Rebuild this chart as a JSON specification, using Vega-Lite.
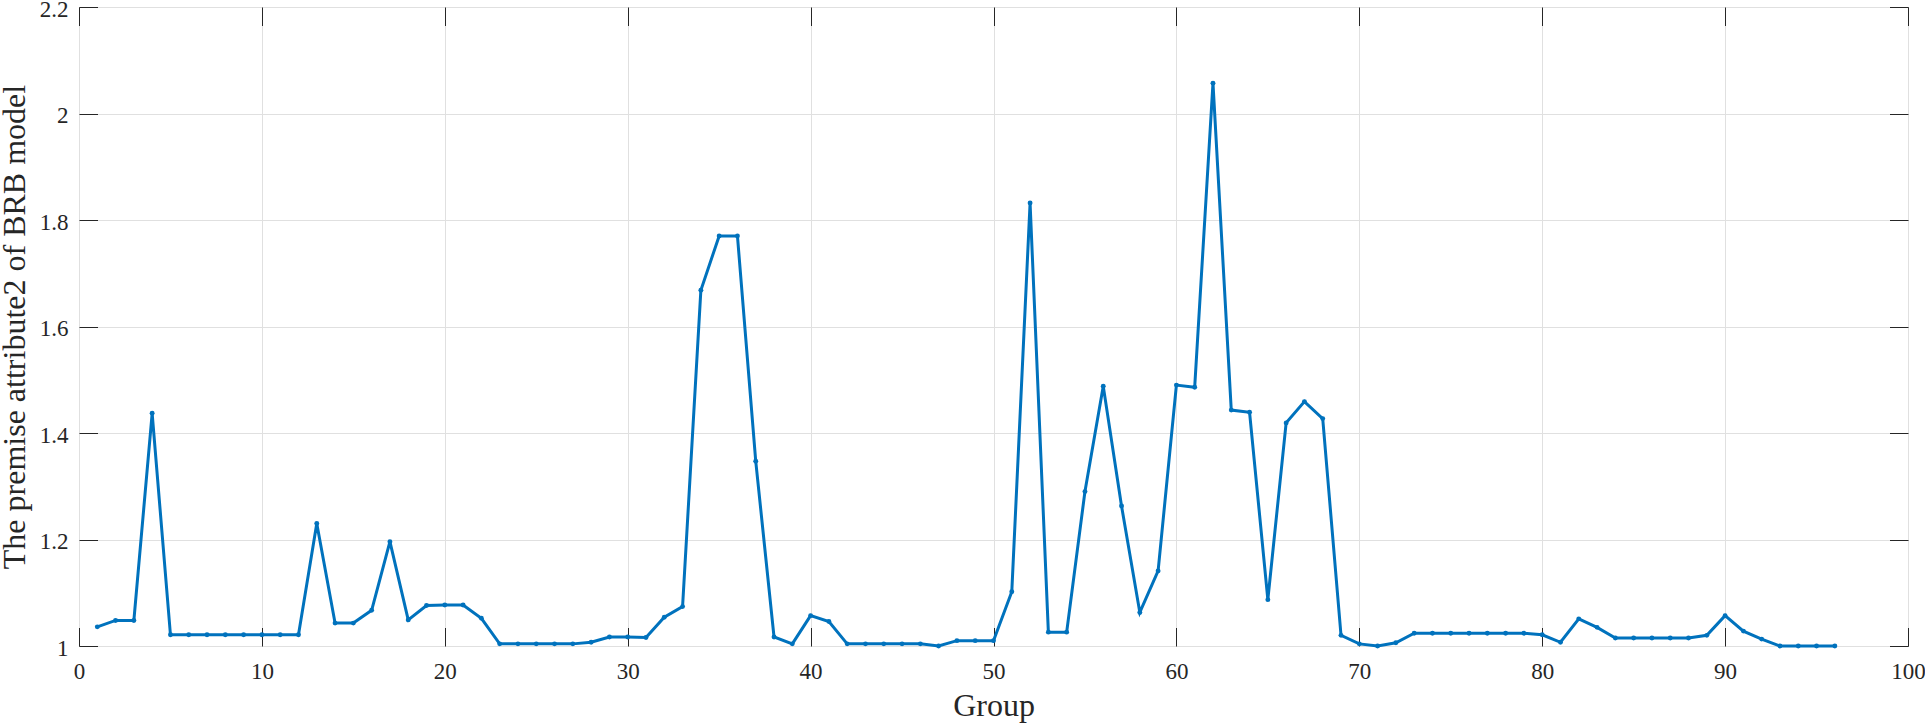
{
  "$schema": "https://vega.github.io/schema/vega-lite/v6.json",
  "width": 1829,
  "height": 639,
  "autosize": {"type": "none"},
  "padding": {"left": 79, "top": 7, "right": 17, "bottom": 77},
  "background": "white",
  "config": {
    "view": {"stroke": "#262626", "strokeWidth": 1},
    "font": "Liberation Serif"
  },
  "data": {
    "values": [
      {"group": 1, "value": 1.036}, {"group": 2, "value": 1.048}, {"group": 3, "value": 1.048},
      {"group": 4, "value": 1.437}, {"group": 5, "value": 1.021}, {"group": 6, "value": 1.021},
      {"group": 7, "value": 1.021}, {"group": 8, "value": 1.021}, {"group": 9, "value": 1.021},
      {"group": 10, "value": 1.021}, {"group": 11, "value": 1.021}, {"group": 12, "value": 1.021},
      {"group": 13, "value": 1.230}, {"group": 14, "value": 1.043}, {"group": 15, "value": 1.043},
      {"group": 16, "value": 1.067}, {"group": 17, "value": 1.196}, {"group": 18, "value": 1.049},
      {"group": 19, "value": 1.076}, {"group": 20, "value": 1.077}, {"group": 21, "value": 1.077},
      {"group": 22, "value": 1.052}, {"group": 23, "value": 1.004}, {"group": 24, "value": 1.004},
      {"group": 25, "value": 1.004}, {"group": 26, "value": 1.004}, {"group": 27, "value": 1.004},
      {"group": 28, "value": 1.007}, {"group": 29, "value": 1.017}, {"group": 30, "value": 1.017},
      {"group": 31, "value": 1.016}, {"group": 32, "value": 1.054}, {"group": 33, "value": 1.074},
      {"group": 34, "value": 1.668}, {"group": 35, "value": 1.770}, {"group": 36, "value": 1.770},
      {"group": 37, "value": 1.347}, {"group": 38, "value": 1.017}, {"group": 39, "value": 1.004},
      {"group": 40, "value": 1.057}, {"group": 41, "value": 1.046}, {"group": 42, "value": 1.004},
      {"group": 43, "value": 1.004}, {"group": 44, "value": 1.004}, {"group": 45, "value": 1.004},
      {"group": 46, "value": 1.004}, {"group": 47, "value": 1.000}, {"group": 48, "value": 1.010},
      {"group": 49, "value": 1.010}, {"group": 50, "value": 1.010}, {"group": 51, "value": 1.102},
      {"group": 52, "value": 1.832}, {"group": 53, "value": 1.026}, {"group": 54, "value": 1.026},
      {"group": 55, "value": 1.290}, {"group": 56, "value": 1.488}, {"group": 57, "value": 1.263},
      {"group": 58, "value": 1.063}, {"group": 59, "value": 1.141}, {"group": 60, "value": 1.490},
      {"group": 61, "value": 1.486}, {"group": 62, "value": 2.057}, {"group": 63, "value": 1.443},
      {"group": 64, "value": 1.439}, {"group": 65, "value": 1.087}, {"group": 66, "value": 1.419},
      {"group": 67, "value": 1.459}, {"group": 68, "value": 1.427}, {"group": 69, "value": 1.020},
      {"group": 70, "value": 1.004}, {"group": 71, "value": 1.000}, {"group": 72, "value": 1.006},
      {"group": 73, "value": 1.024}, {"group": 74, "value": 1.024}, {"group": 75, "value": 1.024},
      {"group": 76, "value": 1.024}, {"group": 77, "value": 1.024}, {"group": 78, "value": 1.024},
      {"group": 79, "value": 1.024}, {"group": 80, "value": 1.021}, {"group": 81, "value": 1.007},
      {"group": 82, "value": 1.051}, {"group": 83, "value": 1.035}, {"group": 84, "value": 1.015},
      {"group": 85, "value": 1.015}, {"group": 86, "value": 1.015}, {"group": 87, "value": 1.015},
      {"group": 88, "value": 1.015}, {"group": 89, "value": 1.020}, {"group": 90, "value": 1.057},
      {"group": 91, "value": 1.028}, {"group": 92, "value": 1.013}, {"group": 93, "value": 1.000},
      {"group": 94, "value": 1.000}, {"group": 95, "value": 1.000}, {"group": 96, "value": 1.000}
    ]
  },
  "layer": [
    {
      "mark": {
        "type": "line",
        "color": "#0072BD",
        "strokeWidth": 3,
        "point": {"filled": true, "size": 24, "color": "#0072BD"}
      },
      "encoding": {
        "x": {
          "field": "group",
          "type": "quantitative",
          "scale": {"domain": [0, 100], "nice": false, "zero": false},
          "axis": {
            "orient": "bottom",
            "values": [0, 10, 20, 30, 40, 50, 60, 70, 80, 90, 100],
            "labelExpr": "'' + datum.value",
            "grid": true,
            "gridColor": "#e0e0e0",
            "gridWidth": 1,
            "domain": false,
            "tickSize": -18.5,
            "tickColor": "#262626",
            "tickWidth": 1,
            "labelFont": "Liberation Serif",
            "labelFontSize": 23,
            "labelColor": "#262626",
            "labelPadding": 32.5,
            "labelFlush": false,
            "labelOverlap": false,
            "labelBound": false,
            "title": "Group",
            "titleFont": "Liberation Serif",
            "titleFontSize": 32,
            "titleFontWeight": "normal",
            "titleColor": "#262626",
            "titleBaseline": "alphabetic",
            "titleY": 69
          }
        },
        "y": {
          "field": "value",
          "type": "quantitative",
          "scale": {"domain": [1, 2.2], "nice": false, "zero": false},
          "axis": {
            "orient": "left",
            "values": [1, 1.2, 1.4, 1.6, 1.8, 2, 2.2],
            "labelExpr": "'' + datum.value",
            "grid": true,
            "gridColor": "#e0e0e0",
            "gridWidth": 1,
            "domain": false,
            "tickSize": -18.5,
            "tickColor": "#262626",
            "tickWidth": 1,
            "labelFont": "Liberation Serif",
            "labelFontSize": 23,
            "labelColor": "#262626",
            "labelPadding": 29.5,
            "labelOffset": 2,
            "labelOverlap": false,
            "labelBound": false,
            "title": "The premise attribute2 of BRB model",
            "titleFont": "Liberation Serif",
            "titleFontSize": 32,
            "titleFontWeight": "normal",
            "titleColor": "#262626",
            "titleBaseline": "alphabetic",
            "titleX": -55,
            "titleY": 319.5
          }
        }
      }
    },
    {
      "mark": {"type": "line", "opacity": 0},
      "encoding": {
        "x": {
          "field": "group",
          "type": "quantitative",
          "axis": {
            "orient": "top",
            "values": [0, 10, 20, 30, 40, 50, 60, 70, 80, 90, 100],
            "grid": false,
            "domain": false,
            "labels": false,
            "title": null,
            "tickSize": -18.5,
            "tickColor": "#262626",
            "tickWidth": 1
          }
        },
        "y": {
          "field": "value",
          "type": "quantitative",
          "axis": {
            "orient": "right",
            "values": [1, 1.2, 1.4, 1.6, 1.8, 2, 2.2],
            "grid": false,
            "domain": false,
            "labels": false,
            "title": null,
            "tickSize": -18.5,
            "tickColor": "#262626",
            "tickWidth": 1
          }
        }
      }
    }
  ],
  "resolve": {"axis": {"x": "independent", "y": "independent"}}
}
